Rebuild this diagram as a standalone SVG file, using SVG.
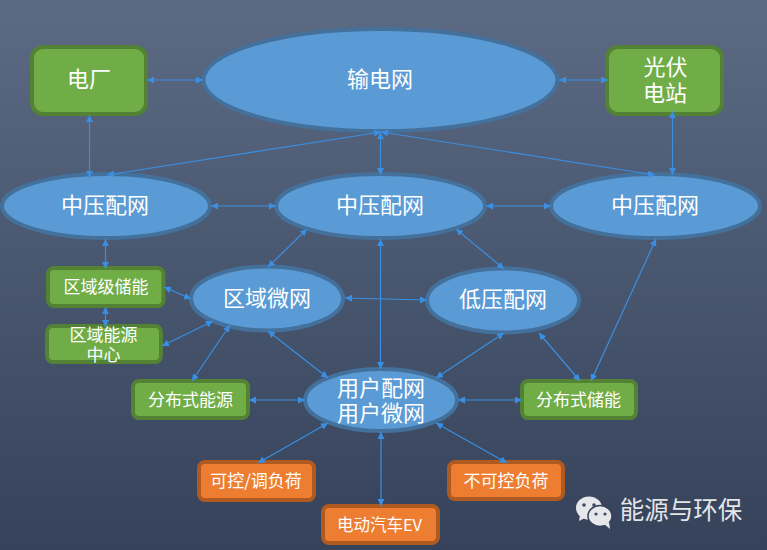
<svg xmlns="http://www.w3.org/2000/svg" width="767" height="550" viewBox="0 0 767 550">
<defs>
<linearGradient id="bg" x1="0" y1="0" x2="0" y2="1"><stop offset="0" stop-color="#5c6a83"/><stop offset="1" stop-color="#35425a"/></linearGradient>
<marker id="ah" viewBox="0 0 7 7" refX="7" refY="3.5" markerWidth="7" markerHeight="7" markerUnits="userSpaceOnUse" orient="auto-start-reverse"><path d="M0 0L7 3.5L0 7Z" fill="#3a8fe2"/></marker>
</defs>
<style>
text{font-family:"Noto Sans CJK SC","Noto Sans",sans-serif;fill:#fff;text-anchor:middle}
.t22{font-size:22px}.t17{font-size:17px}
.g{fill:#70ad47;stroke:#548235;stroke-width:4}
.o{fill:#ed7d31;stroke:#ae5a21;stroke-width:4}
.b{fill:#5b9bd5;stroke:#44719c;stroke-width:4}
#connectors line{stroke:#3a8fe2;stroke-width:1.2;marker-start:url(#ah);marker-end:url(#ah)}
</style>
<rect width="767" height="550" fill="url(#bg)"/>
<g id="n-plant"><rect class="g" x="32" y="47" width="114" height="67" rx="11"/><text class="t22" x="89" y="87">电厂</text></g>
<g id="n-grid"><ellipse class="b" cx="380.5" cy="80" rx="177" ry="51"/><text class="t22" x="380" y="87">输电网</text></g>
<g id="n-pv"><rect class="g" x="607" y="47" width="115" height="67" rx="11"/><text class="t22" x="665.5" y="75"><tspan x="665.5">光伏</tspan><tspan x="665" dy="26">电站</tspan></text></g>
<g id="n-mv1"><ellipse class="b" cx="106" cy="206" rx="104" ry="32"/><text class="t22" x="105" y="213">中压配网</text></g>
<g id="n-mv2"><ellipse class="b" cx="380.5" cy="206" rx="104.500" ry="32"/><text class="t22" x="380" y="213">中压配网</text></g>
<g id="n-mv3"><ellipse class="b" cx="655.5" cy="206" rx="104.500" ry="32"/><text class="t22" x="655" y="213">中压配网</text></g>
<g id="n-micro"><ellipse class="b" cx="267" cy="298.500" rx="76" ry="32"/><text class="t22" x="267" y="306">区域微网</text></g>
<g id="n-lv"><ellipse class="b" cx="503" cy="300.500" rx="76" ry="32"/><text class="t22" x="503" y="307">低压配网</text></g>
<g id="n-user"><ellipse class="b" cx="381" cy="400" rx="76" ry="31"/><text class="t22" x="381" y="396"><tspan x="381">用户配网</tspan><tspan x="381" dy="25">用户微网</tspan></text></g>
<g id="n-storage-r"><rect class="g" x="48" y="268" width="115.500" height="38" rx="6"/><text class="t17" x="106" y="293">区域级储能</text></g>
<g id="n-energy-c"><rect class="g" x="47" y="326" width="114" height="36" rx="6"/><text class="t17" x="103.500" y="341"><tspan x="103.500">区域能源</tspan><tspan x="103.500" dy="20">中心</tspan></text></g>
<g id="n-der"><rect class="g" x="133" y="381" width="115" height="37" rx="6"/><text class="t17" x="190.500" y="406">分布式能源</text></g>
<g id="n-ctrl"><rect class="o" x="199" y="462" width="115" height="38" rx="6"/><text class="t17" x="256" y="487">可控/调负荷</text></g>
<g id="n-ev"><rect class="o" x="323" y="506" width="115" height="37" rx="6"/><text class="t17" x="379.500" y="531" style="font-size:16.500px">电动汽车EV</text></g>
<g id="n-unctrl"><rect class="o" x="449" y="462" width="114" height="37" rx="6"/><text class="t17" x="506" y="487">不可控负荷</text></g>
<g id="n-ess"><rect class="g" x="522" y="381" width="114" height="37" rx="6"/><text class="t17" x="578.500" y="406">分布式储能</text></g>
<g id="connectors">
<line x1="147" y1="80" x2="203" y2="80"/>
<line x1="559" y1="80" x2="608" y2="80"/>
<line x1="89.5" y1="115" x2="89.5" y2="178"/>
<line x1="381" y1="132" x2="107" y2="175"/>
<line x1="381" y1="132" x2="655" y2="175"/>
<line x1="380.5" y1="132" x2="380.5" y2="175"/>
<line x1="672.5" y1="111" x2="672.5" y2="175"/>
<line x1="211" y1="206" x2="276" y2="206"/>
<line x1="486" y1="206" x2="551" y2="206"/>
<line x1="105.5" y1="239" x2="105.5" y2="269"/>
<line x1="307" y1="229" x2="268" y2="267"/>
<line x1="456" y1="229" x2="504" y2="269"/>
<line x1="380.5" y1="239" x2="380.5" y2="369"/>
<line x1="656" y1="239" x2="591" y2="381"/>
<line x1="164" y1="287" x2="191" y2="299"/>
<line x1="105.5" y1="307" x2="105.5" y2="327"/>
<line x1="162" y1="346" x2="213" y2="321"/>
<line x1="192" y1="381" x2="230" y2="325"/>
<line x1="268" y1="331" x2="328" y2="378"/>
<line x1="345" y1="298" x2="427" y2="300"/>
<line x1="504" y1="333" x2="436" y2="378"/>
<line x1="539" y1="333" x2="580" y2="381"/>
<line x1="249" y1="400" x2="305" y2="400"/>
<line x1="458" y1="400" x2="522" y2="400"/>
<line x1="328" y1="423" x2="258" y2="463"/>
<line x1="436" y1="423" x2="507" y2="463"/>
<line x1="381" y1="432" x2="381" y2="506"/>
</g>
<g id="watermark">
<ellipse cx="589" cy="508" rx="13" ry="11.500" fill="#e6e7ea"/><path d="M580 515L579 521L587 517Z" fill="#e6e7ea"/>
<ellipse cx="600" cy="516" rx="12" ry="10.500" stroke="#35425a" stroke-width="1.500" fill="#e6e7ea"/><path d="M604 524L610 529L609 522Z" fill="#e6e7ea"/>
<circle cx="584" cy="505" r="1.800" fill="#3c4960"/><circle cx="594" cy="505" r="1.800" fill="#3c4960"/><circle cx="596" cy="514" r="1.600" fill="#3c4960"/><circle cx="605" cy="514" r="1.600" fill="#3c4960"/>
<text x="681" y="519" style="font-size:24.500px;fill:#e3e5e9">能源与环保</text></g>
</svg>
